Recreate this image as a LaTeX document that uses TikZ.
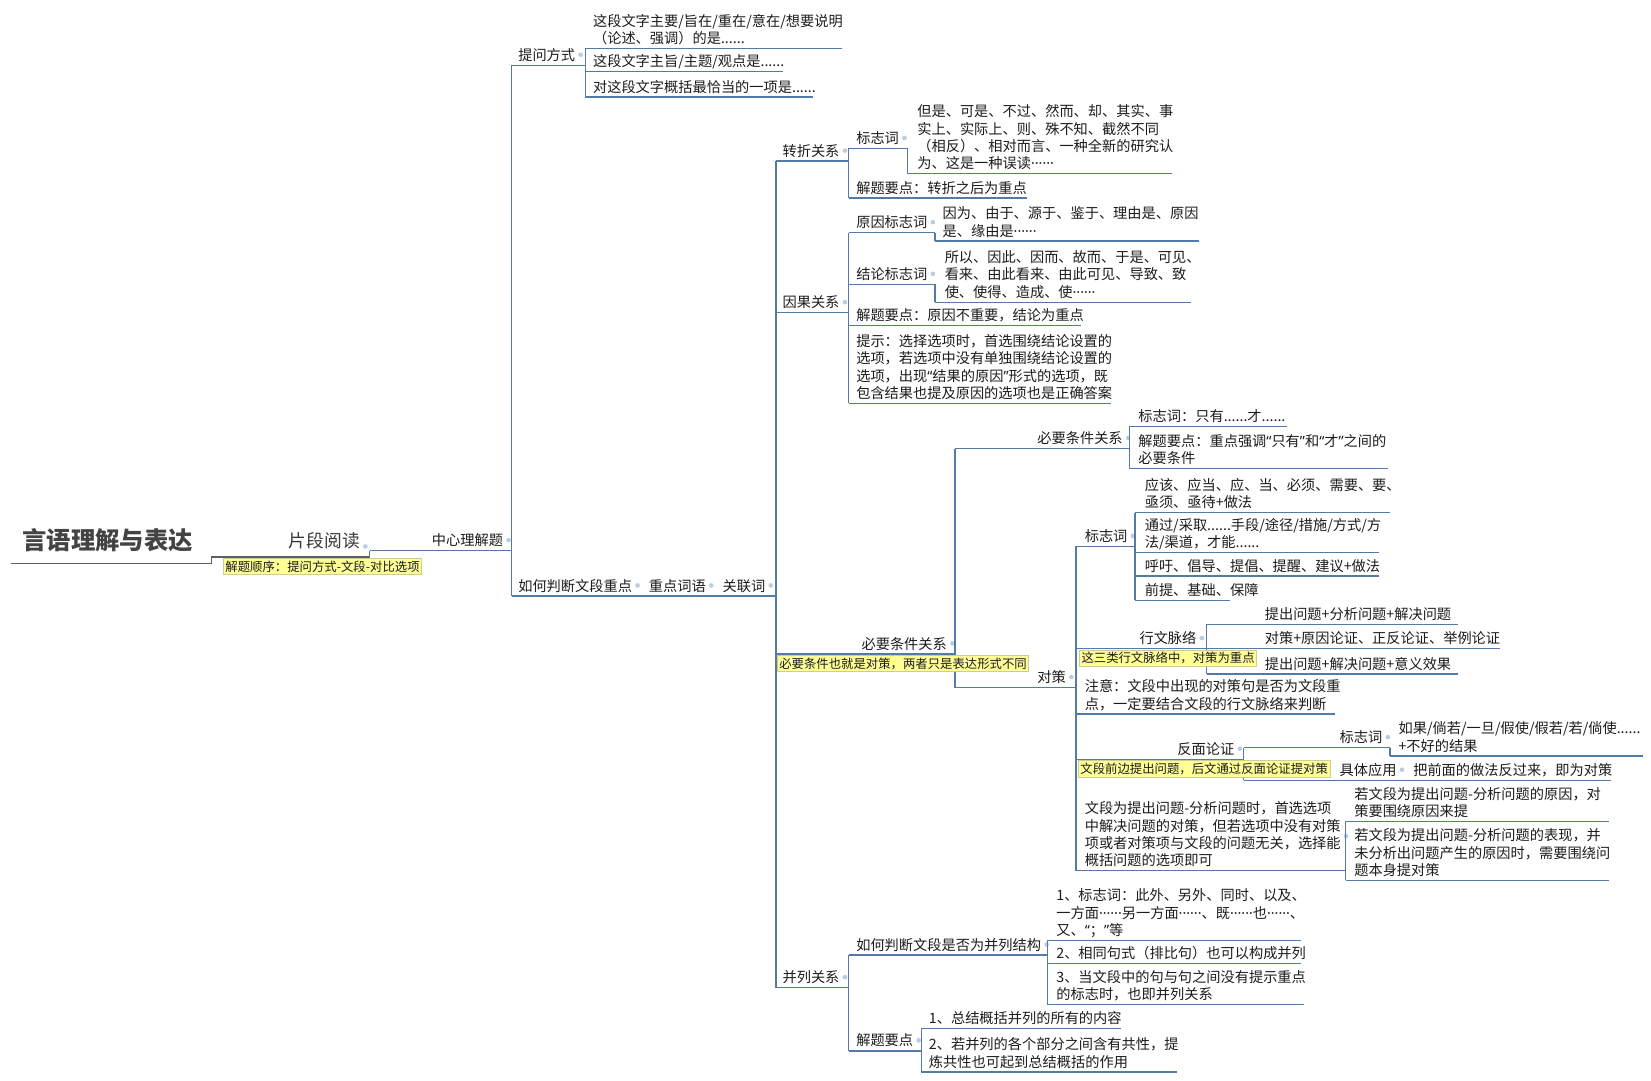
\documentclass[tikz,border=0pt]{standalone}
\usepackage{fontspec}
\setmainfont{Noto Sans CJK SC}
\newfontfamily\latf{Noto Sans}
\newcommand\lqq{{\latf “}}
\newcommand\rqq{{\latf ”}}
\newcommand\mdd{{\latf ······}}
\definecolor{lc}{RGB}{84,122,168}
\definecolor{dotc}{RGB}{188,204,224}
\definecolor{yel}{RGB}{255,255,150}
\definecolor{yelb}{RGB}{205,205,150}
\definecolor{tc}{RGB}{28,28,28}
\definecolor{rootl}{RGB}{95,95,95}
\tikzset{
  ln/.style={draw=lc, line width=1pt},
  t/.style={anchor=south west, inner xsep=0pt, inner ysep=0pt, text depth=3.5pt, align=left,
    font=\fontsize{10.8pt}{13.2pt}\selectfont, text=tc},
  lab/.style={anchor=north west, fill=yel, draw=yelb, line width=0.4pt, inner xsep=1.5pt,
    inner ysep=1.8pt, font=\fontsize{9.4pt}{11pt}\selectfont, text=tc},
}
\newcommand\myul[3]{\draw[ln] (#2,0 |- #1.south) -- (#3,0 |- #1.south);}
\newcommand\myspn[3]{\draw[ln] (#1,0 |- #2.south) -- (#1,0 |- #3.south);}
\newcommand\mydot[1]{\fill[dotc] ([shift={(5,-10)}]#1.south east) circle (2.2);}
\begin{document}
\begin{tikzpicture}[x=0.8pt,y=-0.8pt]
\useasboundingbox (0,0) rectangle (1568,1026);
\fill[white] (0,0) rectangle (1568,1026);

% root
\node[t, text depth=10.4pt, font=\fontsize{18.5pt}{20pt}\selectfont\bfseries, text=rootl!70!black] (root) at (21,535) {言语理解与表达};
\draw[draw=rootl, line width=1pt] (10,0 |- root.south) -- (201,0 |- root.south);
\node[t, text depth=7.2pt, font=\fontsize{13.5pt}{15pt}\selectfont, text=rootl!60!black] (pd) at (274,529) {片段阅读};
\draw[draw=rootl, line width=1pt] (201,0 |- root.south) -- (201,0 |- pd.south) -- (351,0 |- pd.south);
\mydot{pd}

\node[t] (zx) at (410,523) {中心理解题};
\myspn{351}{pd}{zx}
\myul{zx}{351}{486}
\mydot{zx}

% 提问方式
\node[t] (tw) at (492,62) {提问方式};
\myul{tw}{486}{556}
\mydot{tw}
\node[t] (c1) at (563,46) {这段文字主要/旨在/重在/意在/想要说明\\（论述、强调）的是......};
\node[t] (c2) at (563,68) {这段文字主旨/主题/观点是......};
\node[t] (c3) at (563,92) {对这段文字概括最恰当的一项是......};
\myspn{556}{c1}{c3}
\myul{c1}{556}{800}
\myul{c2}{556}{744}
\myul{c3}{556}{772}

% 如何判断文段重点 chain
\node[t] (rh) at (492,566) {如何判断文段重点};
\node[t] (zd) at (616,566) {重点词语};
\node[t] (gl) at (686,566) {关联词};
\myspn{486}{tw}{rh}
\myul{rh}{486}{737}
\mydot{rh}\mydot{zd}\mydot{gl}

% 转折关系
\node[t] (zz) at (743,153) {转折关系};
\myul{zz}{737}{806}
\mydot{zz}
\node[t] (bz1) at (813,141) {标志词};
\myul{bz1}{806}{862}
\mydot{bz1}
\node[t] (bzt1) at (871,165) {但是、可是、不过、然而、却、其实、事\\实上、实际上、则、殊不知、截然不同\\（相反）、相对而言、一种全新的研究认\\为、这是一种误读\mdd};
\myspn{862}{bz1}{bzt1}
\myul{bzt1}{862}{1113}
\node[t] (jd1) at (813,188) {解题要点：转折之后为重点};
\myul{jd1}{806}{975}
\myspn{806}{bz1}{jd1}

% 因果关系
\node[t] (yg) at (743,297) {因果关系};
\myul{yg}{737}{806}
\mydot{yg}
\node[t] (yy) at (813,221) {原因标志词};
\myul{yy}{806}{888}
\mydot{yy}
\node[t] (yyt) at (895,229) {因为、由于、源于、鉴于、理由是、原因\\是、缘由是\mdd};
\myspn{888}{yy}{yyt}
\myul{yyt}{888}{1139}
\node[t] (jl) at (813,270) {结论标志词};
\myul{jl}{806}{888}
\mydot{jl}
\node[t] (jlt) at (897,287) {所以、因此、因而、故而、于是、可见、\\看来、由此看来、由此可见、导致、致\\使、使得、造成、使\mdd};
\myspn{888}{jl}{jlt}
\myul{jlt}{888}{1131}
\node[t] (jd2) at (813,309) {解题要点：原因不重要，结论为重点};
\myul{jd2}{806}{1027}
\node[t] (ts) at (813,383) {提示：选择选项时，首选围绕结论设置的\\选项，若选项中没有单独围绕结论设置的\\选项，出现\lqq 结果的原因\rqq 形式的选项，既\\包含结果也提及原因的选项也是正确答案};
\myul{ts}{806}{1055}
\myspn{806}{yy}{ts}

% 必要条件关系 (outer)
\node[t] (bx) at (818,621) {必要条件关系};
\myul{bx}{737}{907}
\mydot{bx}

\node[t] (bx2) at (985,426) {必要条件关系};
\myul{bx2}{907}{1073}
\mydot{bx2}
\node[t] (bz2) at (1081,405) {标志词：只有......才......};
\myul{bz2}{1073}{1222}
\node[t] (jd3) at (1081,445) {解题要点：重点强调\lqq 只有\rqq 和\lqq 才\rqq 之间的\\必要条件};
\myul{jd3}{1073}{1318}
\myspn{1073}{bz2}{jd3}

% 对策
\node[t] (dc) at (985,653) {对策};
\myul{dc}{907}{1022}
\mydot{dc}
\myspn{907}{bx2}{dc}

\node[t] (bz3) at (1030,519) {标志词};
\myul{bz3}{1022}{1078}
\mydot{bz3}
\node[t] (s1) at (1087,487) {应该、应当、应、当、必须、需要、要、\\亟须、亟待+做法};
\node[t] (s2) at (1087,525) {通过/采取......手段/途径/措施/方式/方\\法/渠道，才能......};
\node[t] (s3) at (1087,547) {呼吁、倡导、提倡、提醒、建议+做法};
\node[t] (s4) at (1087,570) {前提、基础、保障};
\myspn{1078}{s1}{s4}
\myul{s1}{1078}{1320}
\myul{s2}{1078}{1310}
\myul{s3}{1078}{1310}
\myul{s4}{1078}{1168}

\node[t] (xw) at (1082,616) {行文脉络};
\myul{xw}{1022}{1146}
\mydot{xw}
\node[t] (x1) at (1201,593) {提出问题+分析问题+解决问题};
\node[t] (x2) at (1201,616) {对策+原因论证、正反论证、举例论证};
\node[t] (x3) at (1201,640) {提出问题+解决问题+意义效果};
\myspn{1146}{x1}{x3}
\myul{x1}{1146}{1385}
\myul{x2}{1146}{1425}
\myul{x3}{1146}{1385}

\node[t] (zy) at (1030,678) {注意：文段中出现的对策句是否为文段重\\点，一定要结合文段的行文脉络来判断};
\myul{zy}{1022}{1268}

\node[t] (fm) at (1118,721) {反面论证};
\myul{fm}{1022}{1181}
\mydot{fm}
\node[t] (bz4) at (1272,710) {标志词};
\myul{bz4}{1181}{1320}
\mydot{bz4}
\node[t] (bz4t) at (1328,718) {如果/倘若/一旦/假使/假若/若/倘使......\\+不好的结果};
\myspn{1320}{bz4}{bz4t}
\myul{bz4t}{1320}{1560}
\node[t] (jt) at (1272,741) {具体应用};
\myul{jt}{1181}{1334}
\mydot{jt}
\node[t] (jtt) at (1342,741) {把前面的做法反过来，即为对策};
\myul{jtt}{1334}{1530}
\myspn{1181}{bz4}{jt}

\node[t] (wd) at (1030,827) {文段为提出问题-分析问题时，首选选项\\中解决问题的对策，但若选项中没有对策\\项或者对策项与文段的问题无关，选择能\\概括问题的选项即可};
\myul{wd}{1022}{1278}
\fill[dotc] ([xshift=4pt]wd.east) circle (2.2);
\node[t] (r1) at (1286,780) {若文段为提出问题-分析问题的原因，对\\策要围绕原因来提};
\node[t] (r2) at (1286,836) {若文段为提出问题-分析问题的表现，并\\未分析出问题产生的原因时，需要围绕问\\题本身提对策};
\myspn{1278}{r1}{r2}
\myul{r1}{1278}{1528}
\myul{r2}{1278}{1528}
\myspn{1022}{bz3}{wd}

% 并列关系
\node[t] (bl) at (743,938) {并列关系};
\myul{bl}{737}{806}
\mydot{bl}
\node[t] (rp) at (813,907) {如何判断文段是否为并列结构};
\myul{rp}{806}{995}
\mydot{rp}
\node[t] (p1) at (1003,893) {1、标志词：此外、另外、同时、以及、\\一方面\mdd 另一方面\mdd 、既\mdd 也\mdd 、\\又、\lqq；\rqq 等};
\node[t] (p2) at (1003,915) {2、相同句式（排比句）也可以构成并列};
\node[t] (p3) at (1003,954) {3、当文段中的句与句之间没有提示重点\\的标志时，也即并列关系};
\myspn{995}{p1}{p3}
\myul{p1}{995}{1236}
\myul{p2}{995}{1236}
\myul{p3}{995}{1238}
\node[t] (jd4) at (813,998) {解题要点};
\myul{jd4}{806}{875}
\mydot{jd4}
\node[t] (q1) at (882,977) {1、总结概括并列的所有的内容};
\node[t] (q2) at (882,1018) {2、若并列的各个部分之间含有共性，提\\炼共性也可起到总结概括的作用};
\myspn{875}{q1}{q2}
\myul{q1}{875}{1065}
\myul{q2}{875}{1118}
\myspn{806}{rp}{jd4}

% 关联词 spine
\myspn{737}{zz}{bl}

% labels on top
\node[lab] (pdl) at (212,530) {解题顺序：提问方式-文段-对比选项};
\node[lab] (bxl) at (738,622) {必要条件也就是对策，两者只是表达形式不同};
\node[lab] (xwl) at (1025,617) {这三类行文脉络中，对策为重点};
\node[lab] (fml) at (1024,722) {文段前边提出问题，后文通过反面论证提对策};
\end{tikzpicture}
\end{document}
